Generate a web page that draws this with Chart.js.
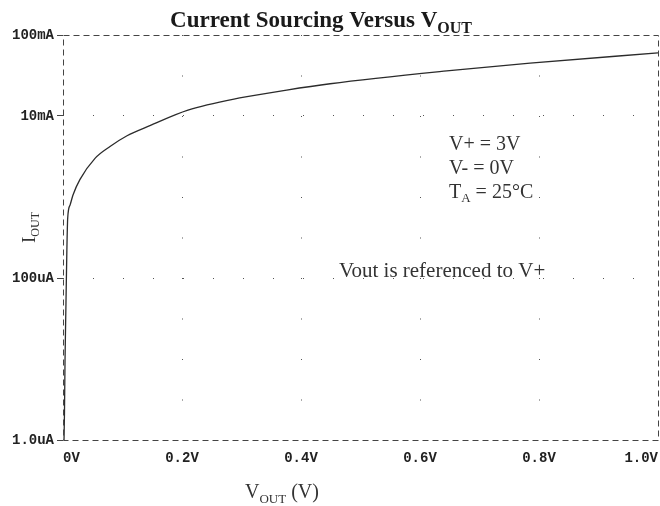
<!DOCTYPE html>
<html>
<head>
<meta charset="utf-8">
<script src="https://cdn.jsdelivr.net/npm/chart.js@4"></script>
<style>
  html, body { margin: 0; padding: 0; background: #fff; }
  #wrap { width: 660px; height: 506px; }
</style>
</head>
<body>
<div id="wrap"><canvas id="chart"></canvas></div>
<script>
// curve: V_OUT (V) and I_OUT (A)
const vOut = [0.0017, 0.0025, 0.0034, 0.005, 0.0065, 0.0079, 0.012, 0.0168, 0.0286, 0.0538,
  0.079, 0.1076, 0.146, 0.21, 0.297, 0.376, 0.449, 0.645, 0.785, 1.0];
const iOut = [1e-6, 2.2e-6, 9.7e-6, 4.9e-5, 2.2e-4, 5.5e-4, 8.0e-4, 1.06e-3, 1.65e-3, 3.0e-3,
  4.2e-3, 5.7e-3, 7.6e-3, 11.8e-3, 16.7e-3, 20.9e-3, 25.0e-3, 36e-3, 45e-3, 60e-3];

const xTickValues = [0, 0.2, 0.4, 0.6, 0.8, 1.0];
const xTickLabels = ["0V", "0.2V", "0.4V", "0.6V", "0.8V", "1.0V"];
const yTickValues = [1e-6, 1e-4, 1e-2, 1e-1];
const yTickLabels = ["1.0uA", "100uA", "10mA", "100mA"];

const notes = ["V+ = 3V", "V- = 0V"];

const ink = "#333";
const serif = "'Liberation Serif', 'Times New Roman', serif";
const mono = "'Liberation Mono', 'DejaVu Sans Mono', monospace";

// text with a subscript part
function subText(ctx, x, y, main, sub, rest, size, subSize, bold) {
  const w = bold ? "bold " : "";
  ctx.font = w + size + "px " + serif;
  ctx.fillText(main, x, y);
  let dx = ctx.measureText(main).width;
  ctx.font = w + subSize + "px " + serif;
  ctx.fillText(sub, x + dx, y + subSize * 0.35);
  dx += ctx.measureText(sub).width;
  if (rest) {
    ctx.font = w + size + "px " + serif;
    ctx.fillText(rest, x + dx, y);
  }
}

function subWidth(ctx, main, sub, size, subSize, bold) {
  const w = bold ? "bold " : "";
  ctx.font = w + size + "px " + serif;
  let total = ctx.measureText(main).width;
  ctx.font = w + subSize + "px " + serif;
  return total + ctx.measureText(sub).width;
}

const decor = {
  id: "decor",
  afterDraw(chart) {
    const ctx = chart.ctx;
    const a = chart.chartArea;
    ctx.save();
    // dashed frame
    ctx.strokeStyle = "#444";
    ctx.lineWidth = 1;
    ctx.setLineDash([6, 4]);
    ctx.strokeRect(Math.round(a.left) + 0.5, Math.round(a.top) + 0.5,
      Math.round(a.right - a.left), Math.round(a.bottom - a.top));
    ctx.setLineDash([]);

    ctx.fillStyle = "#1a1a1a";
    ctx.textBaseline = "alphabetic";
    ctx.textAlign = "left";
    // title
    const tw = subWidth(ctx, "Current Sourcing Versus V", "OUT", 23, 16, true);
    subText(ctx, 321 - tw / 2, 27, "Current Sourcing Versus V", "OUT", "", 23, 16, true);

    // x axis title
    ctx.fillStyle = ink;
    subText(ctx, 245, 498, "V", "OUT", " (V)", 20, 13, false);

    // y axis title
    ctx.save();
    ctx.translate(35, 243);
    ctx.rotate(-Math.PI / 2);
    subText(ctx, 0, 0, "I", "OUT", "", 19, 12, false);
    ctx.restore();

    // notes
    ctx.font = "20px " + serif;
    ctx.fillText(notes[0], 449, 150);
    ctx.fillText(notes[1], 449, 174);
    ctx.fillText("T", 449, 198);
    let dx = ctx.measureText("T").width;
    ctx.font = "13px " + serif;
    ctx.fillText("A", 449 + dx, 202);
    dx += ctx.measureText("A").width;
    ctx.font = "20px " + serif;
    ctx.fillText(" = 25°C", 449 + dx, 198);
    ctx.font = "21px " + serif;
    ctx.fillText("Vout is referenced to V+", 339, 277);
    ctx.restore();
  }
};

new Chart(document.getElementById("chart"), {
  type: "scatter",
  data: {
    datasets: [{
      data: vOut.map((v, i) => ({ x: v, y: iOut[i] })),
      showLine: true,
      borderColor: "#2b2b2b",
      borderWidth: 1.3,
      pointRadius: 0,
      cubicInterpolationMode: "monotone"
    }]
  },
  options: {
    responsive: true,
    maintainAspectRatio: false,
    animation: false,
    layout: { padding: { left: 0, right: 2, top: 35, bottom: 0 } },
    plugins: {
      legend: { display: false },
      tooltip: { enabled: false }
    },
    scales: {
      x: {
        type: "linear",
        min: 0,
        max: 1,
        afterBuildTicks: s => { s.ticks = xTickValues.map(v => ({ value: v })); },
        afterFit: s => { s.height = 66; s.paddingLeft = 0; s.paddingRight = 0; },
        ticks: {
          align: "inner",
          padding: 10,
          maxRotation: 0,
          color: "#222",
          font: { family: mono, size: 14, weight: "bold" },
          callback: (v, i) => xTickLabels[i]
        },
        grid: {
          drawTicks: false,
          lineWidth: 1,
          color: c => (c.index === 0 || c.index === xTickValues.length - 1) ? "rgba(0,0,0,0)" : "#555"
        },
        border: { display: false, dash: [1, 39.5] }
      },
      y: {
        type: "logarithmic",
        min: 1e-6,
        max: 0.1,
        afterBuildTicks: s => { s.ticks = yTickValues.map(v => ({ value: v })); },
        afterFit: s => { s.width = 63; s.paddingTop = 0; s.paddingBottom = 0; },
        ticks: {
          padding: 3,
          color: "#222",
          font: { family: mono, size: 14, weight: "bold" },
          callback: (v, i) => yTickLabels[i]
        },
        grid: {
          tickLength: 6,
          tickColor: "#444",
          lineWidth: 1,
          color: c => (c.index === 0 || c.index === yTickValues.length - 1) ? "rgba(0,0,0,0)" : "#555"
        },
        border: { display: false, dash: [1, 29] }
      }
    }
  },
  plugins: [decor]
});
</script>
</body>
</html>
